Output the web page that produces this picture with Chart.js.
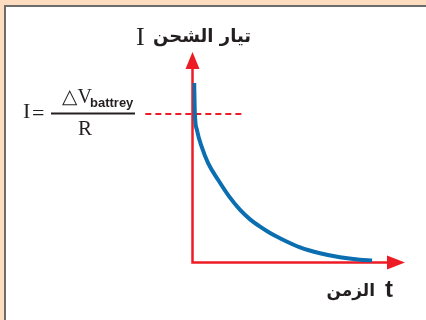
<!DOCTYPE html>
<html>
<head>
<meta charset="utf-8">
<script src="https://cdn.jsdelivr.net/npm/chart.js@4.4.1/dist/chart.umd.min.js"></script>
<style>
  html, body { margin: 0; padding: 0; }
  body { width: 426px; height: 320px; background: #fddcc0; position: relative; overflow: hidden; }
  #panel { position: absolute; left: 4px; top: 5px; width: 420px; height: 313px;
           border-left: 2px solid #6d6b6b; border-top: 2px solid #6d6b6b; background: #fff; }
  #chart { position: absolute; left: 0; top: 0; }
</style>
</head>
<body>
<div id="panel"></div>
<canvas id="chart" width="426" height="320"></canvas>
<script>
// 충전 전류 곡선 (읽은 값)
var timeVals = [0.08, 0.11, 0.21, 0.43, 0.74, 1.21, 1.73, 2.24, 2.71, 3.18, 3.65, 4.12, 5.06, 6.00, 6.94, 7.88, 8.45];
var currentVals = [8.53, 7.10, 6.29, 5.50, 4.71, 3.92, 3.13, 2.50, 2.05, 1.70, 1.40, 1.15, 0.72, 0.44, 0.25, 0.13, 0.09];

// 점선 I = ΔV/R
var dashTime = [-2.22, 2.45];
var dashCurrent = [7.05, 7.05];

// 축 범위
var tMax = 10;
var iMax = 10;

var RED = '#ed1c24';
var BLUE = '#0b6eb0';
var INK = '#231f20';

var curvePoints = timeVals.map(function (t, i) { return { x: t, y: currentVals[i] }; });
var dashPoints = dashTime.map(function (t, i) { return { x: t, y: dashCurrent[i] }; });

// 축, 화살표, 글자
var decorPlugin = {
  id: 'decor',
  beforeDatasetsDraw: function (chart) {
    var ctx = chart.ctx;
    var xs = chart.scales.x, ys = chart.scales.y;
    var x0 = xs.getPixelForValue(0), y0 = ys.getPixelForValue(0);
    var xEnd = xs.getPixelForValue(tMax), yEnd = ys.getPixelForValue(iMax);
    ctx.save();
    ctx.strokeStyle = RED;
    ctx.fillStyle = RED;
    ctx.lineWidth = 2.5;
    ctx.beginPath();
    ctx.moveTo(x0, yEnd + 14);
    ctx.lineTo(x0, y0);
    ctx.lineTo(xEnd - 14, y0);
    ctx.stroke();
    // y 화살표
    ctx.beginPath();
    ctx.moveTo(x0, yEnd);
    ctx.lineTo(x0 - 7, yEnd + 17);
    ctx.lineTo(x0 + 7, yEnd + 17);
    ctx.closePath();
    ctx.fill();
    // x 화살표
    ctx.beginPath();
    ctx.moveTo(xEnd, y0);
    ctx.lineTo(xEnd - 18, y0 - 7);
    ctx.lineTo(xEnd - 18, y0 + 7);
    ctx.closePath();
    ctx.fill();
    ctx.restore();
  },
  afterDraw: function (chart) {
    var ctx = chart.ctx;
    ctx.save();
    ctx.fillStyle = INK;
    ctx.textBaseline = 'alphabetic';

    // y축 제목
    ctx.textAlign = 'left';
    ctx.font = '26px "Liberation Serif", "DejaVu Serif", serif';
    ctx.fillText('I', 136, 45);
    ctx.textAlign = 'right';
    ctx.font = 'bold 18px "DejaVu Sans", sans-serif';
    ctx.fillText('تيار الشحن', 251, 42);

    // x축 제목
    ctx.textAlign = 'left';
    ctx.font = 'bold 24px "Liberation Sans", Arial, sans-serif';
    ctx.fillText('t', 385, 297);
    ctx.textAlign = 'right';
    ctx.font = 'bold 17px "DejaVu Sans", sans-serif';
    ctx.fillText('الزمن', 375, 296);

    // 공식
    ctx.textAlign = 'left';
    ctx.font = '22px "Liberation Serif", "DejaVu Serif", serif';
    ctx.fillText('I', 23, 118);
    ctx.fillText('=', 32, 120);
    ctx.font = '20px "Liberation Serif", "DejaVu Serif", serif';
    ctx.fillText('\u25B3V', 62, 103);
    ctx.font = 'bold 13px "Liberation Sans", Arial, sans-serif';
    ctx.fillText('battrey', 90, 107);
    ctx.font = '21px "Liberation Serif", "DejaVu Serif", serif';
    ctx.fillText('R', 78, 135);
    ctx.fillRect(51, 112.5, 84, 2);
    ctx.restore();
  }
};

var chart = new Chart(document.getElementById('chart'), {
  type: 'line',
  data: {
    datasets: [
      {
        data: curvePoints,
        borderColor: BLUE,
        borderWidth: 4,
        pointRadius: 0,
        cubicInterpolationMode: 'monotone',
        fill: false,
      },
      {
        data: dashPoints,
        borderColor: RED,
        borderWidth: 2,
        borderDash: [6, 4],
        pointRadius: 0,
        clip: false,
        fill: false,
      },
    ],
  },
  options: {
    responsive: false,
    animation: false,
    layout: { padding: { left: 192.5, right: 21, top: 52, bottom: 57.5 } },
    plugins: { legend: { display: false }, tooltip: { enabled: false } },
    scales: {
      x: { type: 'linear', display: false, min: 0, max: tMax },
      y: { type: 'linear', display: false, min: 0, max: iMax },
    },
  },
  plugins: [decorPlugin],
});
</script>
</body>
</html>
